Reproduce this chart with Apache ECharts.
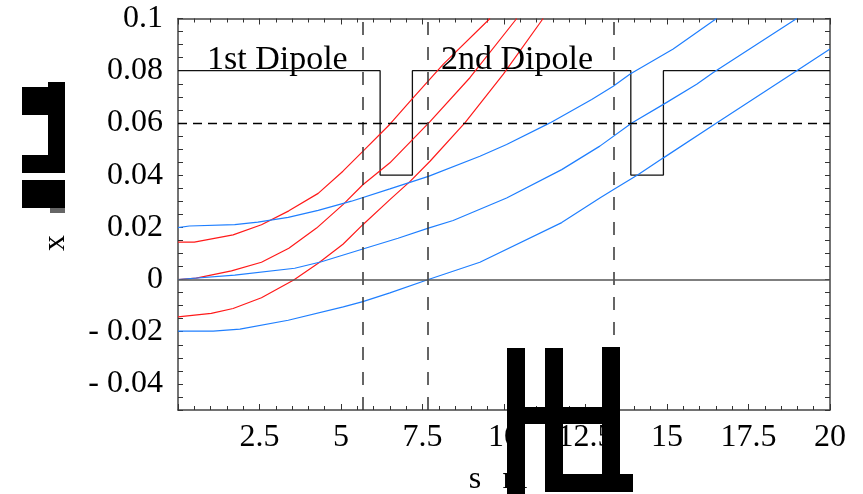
<!DOCTYPE html>
<html>
<head>
<meta charset="utf-8">
<script src="https://cdn.jsdelivr.net/npm/echarts@6/dist/echarts.min.js"></script>
<style>
  html, body { margin: 0; padding: 0; background: #fff; }
  #main { width: 863px; height: 494px; }
</style>
</head>
<body>
<div id="main"></div>
<script>
// tick labels
var xLabelValues = [0, 2.5, 5, 7.5, 10, 12.5, 15, 17.5, 20];
var xLabelTexts = ['', '2.5', '5', '7.5', '10', '12.5', '15', '17.5', '20'];
var yLabelValues = [-0.04, -0.02, 0, 0.02, 0.04, 0.06, 0.08, 0.1];
var yLabelTexts = ['- 0.04', '- 0.02', '0', '0.02', '0.04', '0.06', '0.08', '0.1'];

// dipole field profile (step)
var stepS = [0, 6.2, 6.2, 7.19, 7.19, 13.89, 13.89, 14.89, 14.89, 20];
var stepY = [0.08, 0.08, 0.04, 0.04, 0.08, 0.08, 0.04, 0.04, 0.08, 0.08];

// dashed markers
var dipoleEdges = [5.67, 7.67, 13.37];
var refLevel = 0.06;

// red trajectories
var red1S = [0, 0.5, 1.69, 2.56, 3.4, 4.3, 5.06, 5.7, 6.5, 7.17, 8.14, 9.57];
var red1Y = [0.0143, 0.0143, 0.0171, 0.021, 0.0263, 0.033, 0.0415, 0.0495, 0.0595, 0.069, 0.0825, 0.1];
var red2S = [0, 0.56, 1.64, 2.56, 3.4, 4.25, 5.06, 5.67, 6.5, 7.73, 8.96, 10.39];
var red2Y = [0, 0.0005, 0.0033, 0.0066, 0.012, 0.0197, 0.0287, 0.0363, 0.0447, 0.0605, 0.0774, 0.1];
var red3S = [0, 1.02, 1.69, 2.56, 3.55, 4.3, 5.06, 5.67, 6.5, 7.12, 7.73, 8.8, 9.98, 11.2];
var red3Y = [-0.0143, -0.013, -0.0111, -0.007, -0.0002, 0.0062, 0.0135, 0.021, 0.0306, 0.0376, 0.0453, 0.06, 0.0787, 0.1];

// blue trajectories
var blue1S = [0, 0.35, 1.74, 2.45, 3.38, 4.3, 5.32, 6.5, 7.68, 9.26, 10.08, 11.41, 12.69, 13.35, 13.87, 15.19, 16.52];
var blue1Y = [0.0199, 0.0205, 0.021, 0.022, 0.0238, 0.0265, 0.03, 0.0347, 0.0395, 0.0472, 0.0517, 0.06, 0.069, 0.074, 0.0787, 0.0883, 0.1];
var blue2S = [0, 1.74, 3.58, 4.4, 5.67, 6.75, 7.68, 8.44, 10.08, 11.77, 12.94, 13.92, 14.89, 15.91, 16.42, 18.98];
var blue2Y = [0, 0.0017, 0.0043, 0.0068, 0.0117, 0.0158, 0.0197, 0.0226, 0.0312, 0.0421, 0.0511, 0.06, 0.0671, 0.0748, 0.0793, 0.1];
var blue3S = [0, 1.08, 1.9, 3.38, 5.07, 5.67, 6.5, 7.68, 9.26, 11.77, 12.94, 13.35, 14.12, 14.89, 16.52, 18.98, 20];
var blue3Y = [-0.0198, -0.0198, -0.019, -0.0156, -0.0105, -0.0085, -0.0051, 0, 0.0066, 0.0218, 0.0312, 0.0344, 0.0402, 0.0466, 0.06, 0.08, 0.0883];

var FONT = '"Liberation Serif", "Times New Roman", serif';
var RED = '#ff1a1a';
var BLUE = '#1f7fff';

function pairs(xs, ys) {
  return xs.map(function (x, i) { return [x, ys[i]]; });
}
function lookup(vals, texts, v) {
  for (var i = 0; i < vals.length; i++) {
    if (Math.abs(vals[i] - v) < 1e-9) return texts[i];
  }
  return '';
}
function curve(name, xs, ys, color) {
  return {
    name: name, type: 'line', data: pairs(xs, ys),
    symbol: 'none', smooth: false, clip: true,
    lineStyle: { color: color, width: 1.2 }, z: 3
  };
}

var frame = { show: true, onZero: false, lineStyle: { color: '#444', width: 1.5 } };
var tick = { inside: true, length: 6, lineStyle: { color: '#333' } };
var minor = { show: true, splitNumber: 5, length: 4, lineStyle: { color: '#333' } };

var chart = echarts.init(document.getElementById('main'));
chart.setOption({
  animation: false,
  backgroundColor: '#fff',
  grid: { left: 178, right: 33, top: 18.5, bottom: 84, containLabel: false },
  xAxis: [{
    type: 'value', min: 0, max: 20, interval: 2.5,
    axisLine: frame, axisTick: tick, minorTick: minor,
    splitLine: { show: false },
    axisLabel: {
      margin: 12, color: '#000', fontFamily: FONT, fontSize: 32,
      formatter: function (v) { return lookup(xLabelValues, xLabelTexts, v); }
    }
  }, {
    type: 'value', position: 'top', min: 0, max: 20, interval: 2.5,
    axisLine: frame, axisTick: tick, minorTick: minor,
    splitLine: { show: false },
    axisLabel: { show: false }
  }],
  yAxis: [{
    type: 'value', min: -0.05, max: 0.1, interval: 0.005,
    axisLine: frame,
    axisTick: { inside: true, length: 5, lineStyle: { color: '#333' } },
    splitLine: { show: false },
    axisLabel: {
      customValues: yLabelValues,
      margin: 15, color: '#000', fontFamily: FONT, fontSize: 32,
      formatter: function (v) { return lookup(yLabelValues, yLabelTexts, v); }
    }
  }, {
    type: 'value', position: 'right', min: -0.05, max: 0.1, interval: 0.005,
    axisLine: frame,
    axisTick: { inside: true, length: 5, lineStyle: { color: '#333' } },
    splitLine: { show: false },
    axisLabel: { show: false }
  }],
  series: [
    {
      name: 'field', type: 'line', data: pairs(stepS, stepY),
      symbol: 'none', lineStyle: { color: '#111', width: 1.3 }, z: 2,
      markLine: {
        silent: true, symbol: ['none', 'none'], label: { show: false },
        data: dipoleEdges.map(function (s) {
          return { xAxis: s, lineStyle: { color: '#333', width: 1.5, type: [13, 12] } };
        }).concat([
          { yAxis: refLevel, lineStyle: { color: '#000', width: 1.3, type: [9, 6] } },
          { yAxis: 0, lineStyle: { color: '#555', width: 1.5, type: 'solid' } }
        ])
      }
    },
    curve('r1', red1S, red1Y, RED),
    curve('r2', red2S, red2Y, RED),
    curve('r3', red3S, red3Y, RED),
    curve('b1', blue1S, blue1Y, BLUE),
    curve('b2', blue2S, blue2Y, BLUE),
    curve('b3', blue3S, blue3Y, BLUE)
  ],
  graphic: [
    { type: 'text', left: 207, top: 43, z: 10,
      style: { text: '1st Dipole', font: '34px ' + FONT, fill: '#000' } },
    { type: 'text', left: 441, top: 43, z: 10,
      style: { text: '2nd Dipole', font: '34px ' + FONT, fill: '#000' } },
    { type: 'text', x: 56, y: 243, rotation: Math.PI / 2, z: 10,
      style: { text: 'x', font: '32px ' + FONT, fill: '#000', align: 'center', verticalAlign: 'middle' } },
    { type: 'text', x: 475, y: 480, z: 10,
      style: { text: 's', font: '32px ' + FONT, fill: '#000', align: 'center', verticalAlign: 'middle' } },
    { type: 'text', x: 515, y: 480, z: 10,
      style: { text: 'm', font: '32px ' + FONT, fill: '#000', align: 'center', verticalAlign: 'middle' } },
    // bracket glyph blocks on the y name
    { type: 'rect', z: 20, shape: { x: 22, y: 87, width: 43, height: 28 }, style: { fill: '#000' } },
    { type: 'rect', z: 20, shape: { x: 48, y: 82, width: 17, height: 91 }, style: { fill: '#000' } },
    { type: 'rect', z: 20, shape: { x: 22, y: 155, width: 43, height: 18 }, style: { fill: '#000' } },
    { type: 'rect', z: 20, shape: { x: 22, y: 180, width: 43, height: 28 }, style: { fill: '#000' } },
    { type: 'rect', z: 20, shape: { x: 50, y: 208, width: 15, height: 5 }, style: { fill: '#666' } },
    // bracket glyph blocks on the s name
    { type: 'rect', z: 20, shape: { x: 507, y: 348, width: 18, height: 146 }, style: { fill: '#000' } },
    { type: 'rect', z: 20, shape: { x: 545, y: 348, width: 18, height: 144 }, style: { fill: '#000' } },
    { type: 'rect', z: 20, shape: { x: 602, y: 347, width: 18, height: 128 }, style: { fill: '#000' } },
    { type: 'rect', z: 20, shape: { x: 507, y: 407, width: 113, height: 17 }, style: { fill: '#000' } },
    { type: 'rect', z: 20, shape: { x: 545, y: 474, width: 88, height: 18 }, style: { fill: '#000' } }
  ]
});
</script>
</body>
</html>
